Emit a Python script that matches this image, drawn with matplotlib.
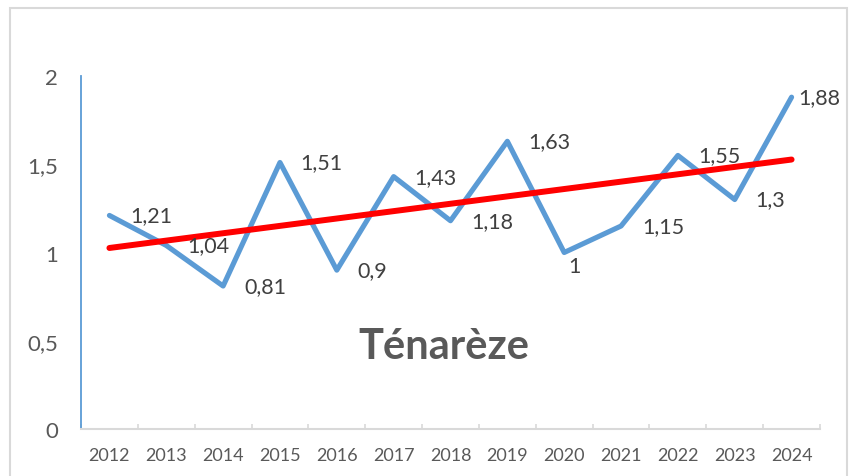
import numpy as np
import matplotlib
matplotlib.use("Agg")
import matplotlib.pyplot as plt
from matplotlib.patches import Rectangle

# Données
years = ["2012", "2013", "2014", "2015", "2016", "2017", "2018",
         "2019", "2020", "2021", "2022", "2023", "2024"]
values = [1.21, 1.04, 0.81, 1.51, 0.9, 1.43, 1.18, 1.63, 1, 1.15, 1.55, 1.3, 1.88]
y_ticks = [0, 0.5, 1, 1.5, 2]
title = "Ténarèze"

plt.rcParams["font.family"] = ["Lato", "DejaVu Sans"]

x = np.arange(len(years))
slope, intercept = np.polyfit(x, values, 1)
trend = slope * x + intercept

W, H = 855, 477
fig = plt.figure(figsize=(W / 100, H / 100), dpi=100)
ax = fig.add_axes([81 / W, (H - 430) / H, 739 / W, 353 / H])

# cadre du graphique
fig.patches.append(Rectangle((10 / W, -0.05), 837 / W, 1.05 - 9 / H,
                             transform=fig.transFigure, fill=False,
                             edgecolor="#D9D9D9", linewidth=1.5))

ax.plot(x, values, color="#5B9BD5", linewidth=3.7,
        solid_joinstyle="round", solid_capstyle="round", zorder=3)
ax.plot(x, trend, color="#FF0000", linewidth=4.3,
        solid_capstyle="round", zorder=4)

# étiquettes de données
offsets = {8: (3, -10), 12: (5, 0)}
for i, v in enumerate(values):
    dx, dy = offsets.get(i, (15, 0))
    txt = f"{v:g}".replace(".", ",")
    ax.annotate(txt, (x[i], v), xytext=(dx, dy), textcoords="offset points",
                ha="left", va="center", fontsize=15.5, color="#404040",
                zorder=5)

ax.text(0.491, 0.235, title, transform=ax.transAxes, ha="center",
        va="center", fontsize=30, fontweight="bold", color="#595959")

ax.set_xlim(-0.5, len(years) - 0.5)
ax.set_ylim(0, 2)
ax.set_xticks(x)
ax.set_xticklabels(years)
ax.set_xticks(np.arange(-0.5, len(years)), minor=True)
ax.set_yticks(y_ticks)
ax.set_yticklabels([f"{t:g}".replace(".", ",") for t in y_ticks])

ax.tick_params(axis="x", which="major", length=0, pad=13,
               labelsize=13, labelcolor="#595959")
ax.tick_params(axis="x", which="minor", direction="in", length=3.6,
               width=1.2, color="#D9D9D9")
ax.tick_params(axis="y", length=0, pad=16.5, labelsize=16,
               labelcolor="#595959")

for s in ["top", "right"]:
    ax.spines[s].set_visible(False)
ax.spines["left"].set_color("#5B9BD5")
ax.spines["left"].set_linewidth(1.3)
ax.spines["bottom"].set_color("#D9D9D9")
ax.spines["bottom"].set_linewidth(1.5)

fig.savefig("out.png", dpi=100)
